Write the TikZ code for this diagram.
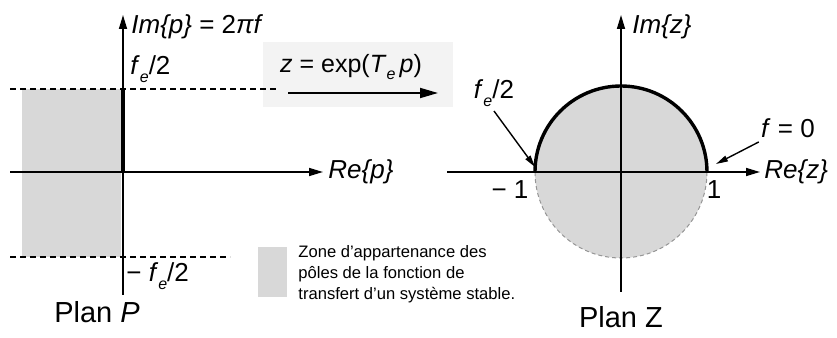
\documentclass[tikz,border=0pt]{standalone}
\usepackage{fontspec}
\setmainfont{Liberation Sans}
\usetikzlibrary{arrows.meta, positioning}
\definecolor{zonegray}{RGB}{216,216,216}
\definecolor{boxgray}{RGB}{243,243,243}
\definecolor{rimgray}{RGB}{150,150,150}
\newcommand{\esub}{\raisebox{-0.6ex}{\fontsize{8}{8}\selectfont\textit{e}}}

\begin{document}
\begin{tikzpicture}[x=0.5pt,y=0.5pt,
    axis/.style={line width=0.8pt, -{Triangle[length=7pt,width=4pt]}},
    maparrow/.style={line width=0.9pt, -{Triangle[length=9pt,width=5pt]}},
    pointer/.style={line width=0.7pt, -{Triangle[length=6pt,width=3pt]}},
    limit/.style={line width=0.6pt, dash pattern=on 3pt off 2pt},
    lbl/.style={font=\fontsize{13}{15}\selectfont, inner sep=1pt},
    plan/.style={font=\fontsize{14.5}{16}\selectfont, inner sep=1pt},
    legend/.style={font=\fontsize{8.3}{10.5}\selectfont, align=left, inner sep=0pt}]
  \useasboundingbox (0,0) rectangle (837,338);
  % Plan P : zone stable
  \fill[zonegray] (22,81) rectangle (121,249);
  % gray band behind the mapping
  \fill[boxgray] (263,231) rectangle (453,296);
  % limits +/- fe/2
  \coordinate (hiL) at (10,249);
  \coordinate (hiR) at (278,249);
  \coordinate (loL) at (10,81);
  \coordinate (loR) at (230,81);
  \draw[limit] (hiL) -- (hiR);
  \draw[limit] (loL) -- (loR);
  % axes of plan P
  \coordinate (pO) at (123,166);
  \coordinate (pW) at (10,166);
  \coordinate (pE) at (323,166);
  \coordinate (pS) at (123,43);
  \coordinate (pN) at (123,323);
  \coordinate (pTop) at (123,249);
  \draw[axis] (pW) -- (pE);
  \draw[axis] (pS) -- (pN);
  \draw[line width=1.7pt] (pO) -- (pTop);
  \node[lbl, anchor=west] (rep) at (326,166) {\textit{Re\{p\}}};
  \node[lbl, anchor=west] (imp) at (129,311) {\textit{Im\{p\}} = 2\textit{πf}};
  \node[lbl, anchor=west] (fhalf) at (128,269) {\textit{f}\esub/2};
  \node[lbl, anchor=west] (fmhalf) at (124,62) {− \textit{f}\esub/2};
  \node[plan] (planP) at (97,26) {Plan \textit{P}};
  % mapping p -> z
  \node[lbl, font=\fontsize{12.5}{15}\selectfont] (map) at (351,271) {\textit{z} = exp(\textit{T}\esub\,\textit{p})};
  \coordinate (mapA) at (288,245);
  \coordinate (mapB) at (438,245);
  \draw[maparrow] (mapA) -- (mapB);
  % legend
  \fill[zonegray] (258,41) rectangle (287,91);
  \node[legend, anchor=north west] (zone) at (298,93) {Zone d'appartenance des\\p\^oles de la fonction de\\transfert d'un syst\`eme stable.};
  % Plan Z : disque unite
  \coordinate (zO) at (621,166);
  \fill[zonegray] (zO) circle (86);
  \draw[rimgray, line width=0.5pt, dash pattern=on 2pt off 1.5pt] (707,166) arc (0:-180:86);
  \draw[line width=1.7pt] (707,166) arc (0:180:86);
  \coordinate (zW) at (447,166);
  \coordinate (zE) at (760,166);
  \coordinate (zS) at (621,46);
  \coordinate (zN) at (621,323);
  \draw[axis] (zW) -- (zE);
  \draw[axis] (zS) -- (zN);
  \node[lbl, anchor=west] (rez) at (762,166) {\textit{Re\{z\}}};
  \node[lbl, anchor=west] (imz) at (630,311) {\textit{Im\{z\}}};
  \node[lbl] (mone) at (510,148) {− 1};
  \node[lbl] (one) at (714,148) {1};
  \node[lbl] (zfhalf) at (494,245) {\textit{f}\esub/2};
  \node[lbl] (fzero) at (788,210) {\textit{f} = 0};
  \coordinate (zleft) at (535,171);
  \coordinate (zright) at (716,174);
  \draw[pointer] (zfhalf.south) ++(0,-2) -- (zleft);
  \draw[pointer] (fzero.south west) ++(0,-2) -- (zright);
  \node[plan] (planZ) at (621,21) {Plan Z};
\end{tikzpicture}
\end{document}
